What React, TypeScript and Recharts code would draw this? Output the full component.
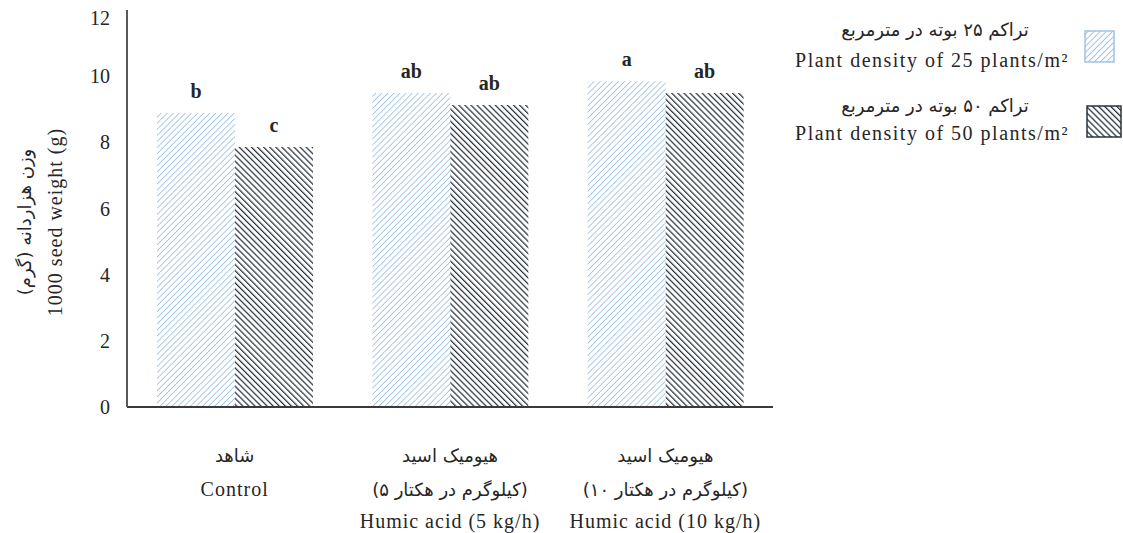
import React from 'react';
import { BarChart, Bar, XAxis, YAxis, LabelList, Label } from 'recharts';

// 1000 seed weight (g) per humic acid treatment, for two plant densities
const categoryKeys = ['control', 'humic5', 'humic10'];
const categoryLines = [
  ['شاهد', 'Control'],
  ['هیومیک اسید', '(۵ کیلوگرم در هکتار)', 'Humic acid (5 kg/h)'],
  ['هیومیک اسید', '(۱۰ کیلوگرم در هکتار)', 'Humic acid (10 kg/h)'],
];
const density25 = [8.89, 9.49, 9.85];
const density50 = [7.86, 9.13, 9.49];
const letters25 = ['b', 'ab', 'a'];
const letters50 = ['c', 'ab', 'ab'];
const yTicks = [0, 2, 4, 6, 8, 10, 12];

const seriesFa = ['تراکم ۲۵ بوته در مترمربع', 'تراکم ۵۰ بوته در مترمربع'];
const seriesEn = ['Plant density of 25 plants/m²', 'Plant density of 50 plants/m²'];

const data = categoryKeys.map((key, i) => ({
  key,
  d25: density25[i],
  d50: density50[i],
  l25: letters25[i],
  l50: letters50[i],
}));

const SERIF = "'Liberation Serif', 'Times New Roman', serif";
const FA = "'DejaVu Sans', sans-serif";
const TEXT = '#262626';
const LIGHT = '#9dc3e6';
const DARK = '#29333f';

const isPersian = (s: string) => /[\u0600-\u06FF]/.test(s);

const CategoryTick = (props: any) => {
  const { x, y, payload } = props;
  const lines = categoryLines[payload.index] || [];
  const ys = [47, 81, 113];
  return (
    <g transform={`translate(${x},${y})`}>
      {lines.map((line, i) => {
        const fa = isPersian(line);
        return (
          <text
            key={i}
            x={0}
            y={ys[i]}
            textAnchor="middle"
            fill={TEXT}
            fontFamily={fa ? FA : SERIF}
            fontSize={fa ? 18 : 20}
            letterSpacing={fa ? 0 : 1}
          >
            {line}
          </text>
        );
      })}
    </g>
  );
};

// the top label sits a little below the end of the axis
const ValueTick = (props: any) => {
  const { x, y, payload } = props;
  const dy = payload.value === 12 ? 8 : 0;
  return (
    <text x={x} y={y + dy} dy="0.35em" textAnchor="end" fill={TEXT} fontSize={20} fontFamily={SERIF}>
      {payload.value}
    </text>
  );
};

const YTitle = () => (
  <g>
    <text
      transform="translate(24,222) rotate(-90)"
      textAnchor="middle"
      dominantBaseline="central"
      fill={TEXT}
      fontFamily={FA}
      fontSize={18}
    >
      وزن هزاردانه (گرم)
    </text>
    <text
      transform="translate(55,222) rotate(-90)"
      textAnchor="middle"
      dominantBaseline="central"
      fill={TEXT}
      fontFamily={SERIF}
      fontSize={20}
      letterSpacing={1}
    >
      1000 seed weight (g)
    </text>
  </g>
);

// hatch fills shared by bars and legend swatches
const HatchDefs = ({ suffix, lightWidth, darkWidth }: { suffix: string; lightWidth: number; darkWidth: number }) => (
  <defs>
    <pattern id={`hatchLight${suffix}`} width={4.3} height={4.3} patternUnits="userSpaceOnUse" patternTransform="rotate(45)">
      <rect width={4.3} height={4.3} fill="#fff" />
      <line x1={0} y1={0} x2={0} y2={4.3} stroke={LIGHT} strokeWidth={lightWidth} />
    </pattern>
    <pattern id={`hatchDark${suffix}`} width={4.3} height={4.3} patternUnits="userSpaceOnUse" patternTransform="rotate(-45)">
      <rect width={4.3} height={4.3} fill="#fff" />
      <line x1={0} y1={0} x2={0} y2={4.3} stroke={DARK} strokeWidth={darkWidth} />
    </pattern>
  </defs>
);

const LegendBlock = () => (
  <svg width={1123} height={160} style={{ position: 'absolute', left: 0, top: 0 }}>
    <HatchDefs suffix="Legend" lightWidth={2} darkWidth={2.6} />
    {[0, 1].map((i) => {
      const faY = i === 0 ? 36 : 112;
      const enY = i === 0 ? 67 : 140;
      const box = i === 0 ? { x: 1085, y: 31, w: 29, h: 31 } : { x: 1087, y: 106, w: 34, h: 31 };
      return (
        <g key={i}>
          <text x={935} y={faY} textAnchor="middle" fill={TEXT} fontFamily={FA} fontSize={18}>
            {seriesFa[i]}
          </text>
          <text x={932} y={enY} textAnchor="middle" fill={TEXT} fontFamily={SERIF} fontSize={20} letterSpacing={1.5}>
            {seriesEn[i]}
          </text>
          <rect
            x={box.x}
            y={box.y}
            width={box.w}
            height={box.h}
            fill={i === 0 ? 'url(#hatchLightLegend)' : 'url(#hatchDarkLegend)'}
            stroke={i === 0 ? LIGHT : DARK}
            strokeWidth={1.5}
          />
        </g>
      );
    })}
  </svg>
);

export default function App() {
  return (
    <div style={{ position: 'absolute', left: 0, top: 0, width: 1123, height: 533, background: '#fff' }}>
      <BarChart
        width={1123}
        height={533}
        data={data}
        margin={{ top: 10, right: 350, bottom: 6, left: 67 }}
        barSize={78}
        barGap={0}
      >
        <HatchDefs suffix="" lightWidth={1.7} darkWidth={2.5} />
        <XAxis
          dataKey="key"
          height={120}
          axisLine={{ stroke: '#3a3a3a', strokeWidth: 2 }}
          tickLine={false}
          tick={<CategoryTick />}
          interval={0}
        />
        <YAxis
          width={60}
          domain={[0, 12]}
          ticks={yTicks}
          interval={0}
          axisLine={{ stroke: '#595959', strokeWidth: 2 }}
          tickLine={false}
          tickSize={0}
          tickMargin={17}
          tick={<ValueTick />}
        >
          <Label content={<YTitle />} />
        </YAxis>
        <Bar dataKey="d25" name={seriesEn[0]} fill="url(#hatchLight)" isAnimationActive={false}>
          <LabelList dataKey="l25" position="top" offset={15} fill={TEXT} fontFamily={SERIF} fontSize={20} fontWeight="bold" />
        </Bar>
        <Bar dataKey="d50" name={seriesEn[1]} fill="url(#hatchDark)" isAnimationActive={false}>
          <LabelList dataKey="l50" position="top" offset={15} fill={TEXT} fontFamily={SERIF} fontSize={20} fontWeight="bold" />
        </Bar>
      </BarChart>
      <LegendBlock />
    </div>
  );
}
